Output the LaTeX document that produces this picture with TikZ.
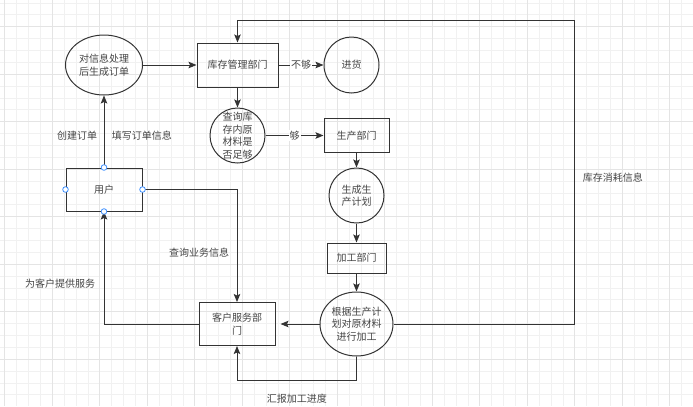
\documentclass[tikz,border=0pt]{standalone}
\usepackage{fontspec}
\setmainfont{Noto Sans CJK SC}
\usepackage{xcolor}
\usetikzlibrary{shapes,arrows.meta,positioning}
\definecolor{linegray}{HTML}{333333}
\definecolor{textgray}{HTML}{454545}
\definecolor{gridminor}{HTML}{F1F1F1}
\definecolor{gridmajor}{HTML}{E4E4E4}
\definecolor{handleblue}{HTML}{3D8FFF}

\begin{document}
\begin{tikzpicture}[x=1bp, y=-1bp, >={Stealth[length=8bp, width=6.5bp, inset=1.5bp]},
    line width=1bp, draw=linegray, text=textgray,
    font=\fontsize{10bp}{12.5bp}\selectfont,
    box/.style={draw=linegray, rectangle, inner sep=0pt, align=center},
    bubble/.style={draw=linegray, ellipse, inner sep=0pt, align=center},
    lbl/.style={fill=white, inner sep=1bp},
    handle/.style={draw=handleblue, fill=white, line width=0.8bp}]

    \useasboundingbox (0,0) rectangle (693,406);
    \fill[white] (0,0) rectangle (693,406);

    % background grid
    \foreach \k in {0,...,57}
        \draw[gridminor, line width=0.8bp] ({4.8+11.875*\k},0) -- ({4.8+11.875*\k},406);
    \foreach \n in {0,...,33}
        \draw[gridminor, line width=0.8bp] (0,{2.95+11.875*\n}) -- (693,{2.95+11.875*\n});
    \foreach \k in {0,4,...,56}
        \draw[gridmajor, line width=0.8bp] ({4.8+11.875*\k},0) -- ({4.8+11.875*\k},406);
    \foreach \n in {2,6,...,30}
        \draw[gridmajor, line width=0.8bp] (0,{2.95+11.875*\n}) -- (693,{2.95+11.875*\n});

    % order and stock
    \node[bubble, minimum width=77bp, minimum height=60bp] (order) at (104,65) {对信息处理\\后生成订单};
    \node[box, minimum width=81bp, minimum height=44bp] (stock) at (237.5,65) {库存管理部门};
    \node[bubble, minimum width=55bp, minimum height=56bp] (restock) at (351.5,65) {进货};
    \node[bubble, minimum width=55bp, minimum height=55bp, inner sep=-6bp] (check) at (237.5,135.5) {查询库\\存内原\\材料是\\否足够};

    % production chain
    \node[box, minimum width=65bp, minimum height=34bp] (prod) at (356.5,135.5) {生产部门};
    \node[bubble, minimum width=55bp, minimum height=55bp] (plan) at (356.5,195.5) {生成生\\产计划};
    \node[box, minimum width=59bp, minimum height=30bp] (machdep) at (356.5,258) {加工部门};
    \node[bubble, minimum width=73bp, minimum height=64bp] (machining) at (356.5,324) {根据生产计\\划对原材料\\进行加工};

    % user and service
    \node[box, minimum width=76bp, minimum height=43bp] (user) at (104,189.5) {用户};
    \node[box, minimum width=76bp, minimum height=43bp] (service) at (237,324) {客户服务部\\门};

    \coordinate (topright) at (574,20);
    \coordinate (bottomleft) at (237,380);

    \draw[->] (order) -- (stock);
    \draw[->] (stock) -- node[lbl]{不够} (restock);
    \draw[->] (stock) -- (check);
    \draw[->] (check) -- node[lbl]{够} (prod);
    \draw[->] (prod) -- (plan);
    \draw[->] (plan) -- (machdep);
    \draw[->] (machdep) -- (machining);
    \draw[->, shorten >=5bp] (machining) -- (service);

    \draw[->] (machining.east) -| node[pos=0.74, anchor=west, xshift=5bp]{库存消耗信息} (topright) -| (stock.north);
    \draw[->] (machining.south) |- node[pos=0.75, below=10bp]{汇报加工进度} (bottomleft) -- (service.south);
    \draw[->] (user.east) -| node[pos=0.78, anchor=east, xshift=-4bp]{查询业务信息} (service.north);
    \draw[->] (service.west) -| node[pos=0.677, anchor=east, xshift=-5bp]{为客户提供服务} (user.south);
    \draw[->] (user) -- node[pos=0.44, left=3bp]{创建订单} node[pos=0.44, right=4bp]{填写订单信息} (order);

    % selection handles
    \foreach \a in {north,south,east,west}
        \draw[handle] (user.\a) circle (2.8bp);

\end{tikzpicture}
\end{document}
